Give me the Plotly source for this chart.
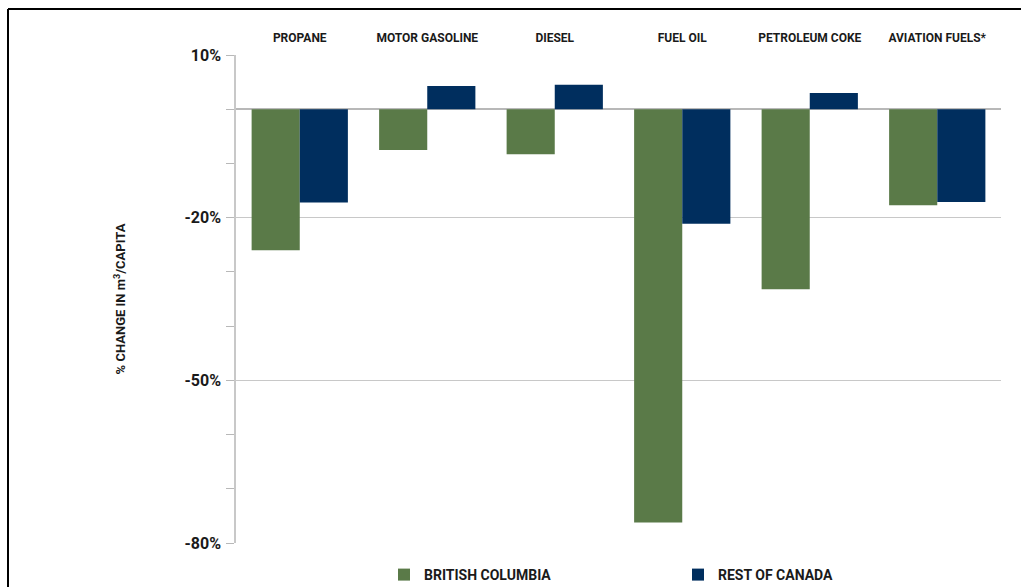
import plotly.graph_objects as go

# Fuel categories and % change in per-capita consumption
categories = ["PROPANE", "MOTOR GASOLINE", "DIESEL", "FUEL OIL", "PETROLEUM COKE", "AVIATION FUELS*"]
bc_change = [-26.0, -7.5, -8.3, -76.2, -33.2, -17.7]
roc_change = [-17.2, 4.3, 4.5, -21.1, 3.0, -17.1]

y_labels = ["10%", "-20%", "-50%", "-80%"]
y_label_vals = [10, -20, -50, -80]

FONT = "Roboto, Liberation Sans, sans-serif"
TEXT = "#1a1a1a"
GREEN = "#5a7a48"
NAVY = "#002e5e"

# plot area in pixels: x 236..1001, y 55..543
L, R, T, B = 236, 20, 55, 44
PW, PH = 1021 - L - R, 587 - T - B


def px_x(px):
    return (px - L) / PW


def px_y(py):
    return (587 - B - py) / PH


fig = go.Figure()
fig.add_trace(go.Bar(
    x=categories, y=bc_change, name="BRITISH COLUMBIA", legend="legend",
    marker=dict(color=GREEN, line=dict(width=0)),
))
fig.add_trace(go.Bar(
    x=categories, y=roc_change, name="REST OF CANADA", legend="legend2",
    marker=dict(color=NAVY, line=dict(width=0)),
))

legend_style = dict(
    orientation="h", yanchor="middle", xanchor="left",
    itemwidth=30, bgcolor="rgba(0,0,0,0)",
    font=dict(family=FONT, size=14, color=TEXT, weight="bold"),
)

fig.update_layout(
    width=1021, height=587,
    margin=dict(l=L, r=R, t=T, b=B, autoexpand=False),
    paper_bgcolor="white", plot_bgcolor="white",
    barmode="group", bargap=0.245, bargroupgap=0,
    font=dict(family=FONT, color=TEXT),
    showlegend=True,
    legend=dict(x=px_x(384), y=px_y(575), **legend_style),
    legend2=dict(x=px_x(678), y=px_y(575), **legend_style),
)

fig.update_xaxes(
    side="top", showline=False, ticks="", showgrid=False,
    tickangle=0, automargin=False,
    tickfont=dict(family=FONT, size=12, color=TEXT, weight="bold"),
    ticklabelstandoff=10,
)

fig.update_yaxes(
    range=[-80, 10], automargin=False,
    tickvals=y_label_vals, ticktext=y_labels,
    tickfont=dict(family=FONT, size=16, color=TEXT, weight="bold"),
    ticks="outside", ticklen=8, tickcolor="#b8b8b8", ticklabelstandoff=2,
    minor=dict(dtick=10, tick0=0, ticks="outside", ticklen=8, tickcolor="#b8b8b8", showgrid=False),
    showgrid=True, gridcolor="#c8c8c8", gridwidth=1,
    zeroline=True, zerolinecolor="#b8b8b8", zerolinewidth=1.5,
    showline=True, linecolor="#c8c8c8", linewidth=1.5,
    title=dict(text="% CHANGE IN m<sup>3</sup>/CAPITA",
               font=dict(family=FONT, size=13, color=TEXT, weight="bold"),
               standoff=56),
)

# Frame around the figure (top and left edges)
fig.add_shape(type="line", xref="paper", yref="paper",
              x0=px_x(8), x1=px_x(1030), y0=px_y(9), y1=px_y(9),
              line=dict(color="black", width=2))
fig.add_shape(type="line", xref="paper", yref="paper",
              x0=px_x(8), x1=px_x(8), y0=px_y(9), y1=px_y(600),
              line=dict(color="black", width=2))

fig.write_html("out.html")
